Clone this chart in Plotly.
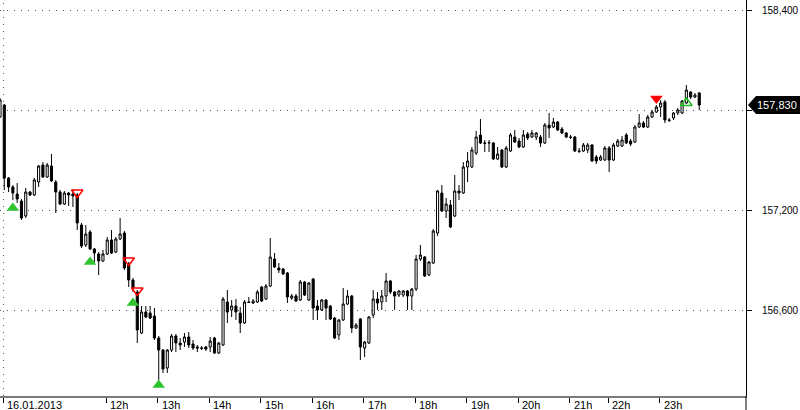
import plotly.graph_objects as go

# ---- data (5-minute candles, bar index 0..163) ----
opens = [157758,157830,157392,157338,157296,157254,157164,157308,157290,157368,
         157470,157398,157464,157368,157308,157236,157302,157296,157290,157110,
         156990,157068,156966,156936,156894,156936,157020,156948,157026,157062,
         156876,156780,156708,156462,156588,156582,156564,156432,156360,156252,
         156360,156444,156402,156408,156438,156396,156378,156372,156378,156378,
         156432,156342,156390,156648,156600,156624,156582,156522,156648,156642,
         156648,156738,156666,156744,156906,156852,156846,156822,156672,156684,
         156660,156768,156660,156786,156624,156600,156660,156624,156552,156450,
         156540,156636,156684,156492,156546,156372,156402,156570,156666,156648,
         156684,156774,156708,156690,156690,156714,156684,156726,156906,156918,
         156810,156882,157062,157302,157194,157230,157164,157314,157302,157458,
         157458,157542,157650,157602,157602,157602,157506,157560,157458,157554,
         157638,157614,157578,157656,157638,157638,157638,157602,157710,157698,
         157728,157686,157662,157638,157638,157554,157554,157560,157590,157518,
         157500,157500,157572,157500,157584,157584,157650,157614,157608,157698,
         157722,157698,157758,157788,157818,157848,157740,157752,157782,157782,
         157842,157908,157878,157902]
highs = [157872,157836,157398,157350,157362,157266,157332,157314,157392,157470,
         157488,157482,157536,157380,157320,157314,157308,157326,157302,157122,
         157110,157080,156972,156948,156960,157038,157080,157038,157152,157074,
         156888,156792,156720,156624,156624,156624,156612,156444,156366,156366,
         156456,156456,156432,156462,156468,156420,156390,156384,156384,156438,
         156438,156408,156678,156720,156660,156666,156618,156660,156678,156666,
         156720,156744,156756,157032,156942,156882,156852,156828,156696,156696,
         156780,156774,156768,156792,156660,156666,156666,156630,156558,156546,
         156732,156720,156690,156522,156552,156414,156564,156720,156708,156720,
         156822,156780,156714,156720,156720,156720,156732,156930,156990,156924,
         156894,157086,157320,157350,157272,157260,157410,157350,157488,157548,
         157578,157674,157746,157620,157620,157608,157578,157566,157584,157662,
         157680,157632,157680,157668,157680,157668,157650,157722,157782,157752,
         157734,157698,157668,157650,157644,157572,157602,157602,157596,157530,
         157530,157584,157584,157602,157626,157644,157662,157626,157710,157776,
         157734,157770,157800,157830,157860,157860,157752,157788,157812,157860,
         157950,157914,157902,157908]
lows = [157752,157320,157308,157260,157242,157140,157152,157284,157284,157338,
        157392,157392,157368,157182,157230,157230,157224,157218,157080,156972,
        156978,156960,156888,156810,156888,156930,156936,156942,157020,156840,
        156738,156708,156402,156456,156552,156546,156420,156180,156222,156222,
        156348,156348,156360,156378,156372,156360,156348,156360,156354,156348,
        156336,156336,156384,156522,156558,156540,156462,156516,156642,156636,
        156642,156648,156660,156738,156852,156822,156810,156642,156660,156648,
        156654,156684,156654,156540,156540,156594,156540,156540,156426,156420,
        156534,156630,156462,156486,156300,156318,156396,156552,156600,156600,
        156648,156696,156600,156678,156678,156600,156600,156714,156894,156798,
        156804,156876,157044,157188,157152,157092,157158,157260,157296,157368,
        157452,157530,157596,157548,157548,157500,157500,157452,157452,157548,
        157602,157572,157572,157620,157632,157620,157578,157596,157632,157692,
        157674,157656,157632,157626,157548,157542,157548,157542,157488,157476,
        157494,157494,157428,157494,157578,157578,157596,157584,157602,157692,
        157692,157692,157752,157782,157758,157722,157728,157740,157770,157776,
        157836,157866,157872,157800]
closes = [157860,157392,157338,157302,157266,157152,157308,157290,157380,157464,
          157398,157470,157374,157308,157236,157302,157290,157284,157122,156984,
          157056,156966,156942,156894,156936,157020,156942,157026,157056,156852,
          156780,156732,156480,156588,156558,156552,156432,156360,156246,156360,
          156444,156402,156390,156438,156390,156372,156372,156370,156366,156414,
          156342,156402,156666,156588,156624,156588,156522,156648,156645,156654,
          156708,156654,156744,156918,156858,156840,156816,156678,156684,156654,
          156768,156690,156762,156612,156600,156660,156612,156546,156432,156540,
          156636,156684,156492,156510,156378,156408,156558,156666,156642,156684,
          156774,156708,156684,156714,156714,156684,156726,156906,156930,156804,
          156888,157074,157314,157194,157236,157098,157314,157302,157458,157494,
          157560,157638,157602,157600,157604,157506,157536,157458,157572,157650,
          157608,157578,157650,157632,157662,157662,157602,157710,157692,157728,
          157680,157662,157638,157636,157554,157552,157590,157590,157494,157494,
          157518,157572,157500,157590,157614,157620,157602,157596,157698,157722,
          157698,157758,157788,157818,157842,157740,157738,157782,157800,157854,
          157920,157878,157890,157830]

# hour tick labels (bar index where each label sits)
tick_index = [1, 25, 37, 49, 61, 73, 85, 97, 109, 121, 133, 142, 154]
tick_labels = ["16.01.2013", "12h", "13h", "14h", "15h", "16h", "17h",
               "18h", "19h", "20h", "21h", "22h", "23h"]

# signal markers
buy_index = [3, 21, 31, 37]
buy_price = [157212, 156888, 156642, 156150]
sell_open_index = [18, 30, 32]
sell_open_price = [157305, 156897, 156717]
sell_index = [153]
sell_price = [157869]
buy_open_index = [160]
buy_open_price = [157842]

y_ticks = [156600, 157200, 157800, 158400]

# ---- figure ----
x = list(range(len(opens)))
fig = go.Figure()
fig.add_trace(go.Candlestick(
    x=x, open=opens, high=highs, low=lows, close=closes,
    increasing=dict(line=dict(color="black", width=1), fillcolor="white"),
    decreasing=dict(line=dict(color="black", width=1), fillcolor="black"),
    whiskerwidth=0, hoverinfo="skip", showlegend=False))

fig.add_trace(go.Scatter(x=buy_index, y=buy_price, mode="markers",
    marker=dict(symbol="triangle-up", size=11, color="#2fc42f", line=dict(width=0)),
    showlegend=False, hoverinfo="skip"))
fig.add_trace(go.Scatter(x=sell_open_index, y=sell_open_price, mode="markers",
    marker=dict(symbol="triangle-down-open", size=10, color="#ff0000", line=dict(width=1.5, color="#ff0000")),
    showlegend=False, hoverinfo="skip"))
fig.add_trace(go.Scatter(x=sell_index, y=sell_price, mode="markers",
    marker=dict(symbol="triangle-down", size=11, color="#ff0000", line=dict(width=0)),
    showlegend=False, hoverinfo="skip"))
fig.add_trace(go.Scatter(x=buy_open_index, y=buy_open_price, mode="markers",
    marker=dict(symbol="triangle-up-open", size=10, color="#22bb22", line=dict(width=1.5, color="#22bb22")),
    showlegend=False, hoverinfo="skip"))

PLOT_W = 746
fig.update_layout(
    width=800, height=410,
    margin=dict(l=0, r=800 - PLOT_W, t=0, b=14),
    paper_bgcolor="white", plot_bgcolor="white",
    font=dict(family="Liberation Sans, Arial, sans-serif", size=10, color="black"),
    xaxis=dict(
        range=[0, 173.9], rangeslider=dict(visible=False),
        showgrid=False, zeroline=False, automargin=False,
        showline=True, linecolor="#7a7a7a", linewidth=2,
        tickmode="array", tickvals=[t - 0.2 for t in tick_index], ticktext=[""] * len(tick_index),
        ticks="outside", ticklen=5, tickcolor="black", tickwidth=1,
        showticklabels=False,
    ),
    yaxis=dict(
        side="right", range=[156084, 158460], automargin=False,
        tickmode="array", tickvals=y_ticks,
        ticktext=[f"{v:,}" if v != 157800 else "" for v in y_ticks],
        showgrid=True, gridcolor="#555555", gridwidth=1, griddash="1px,6px",
        zeroline=False,
        showline=True, linecolor="black", linewidth=1,
        ticks="outside", ticklen=5, tickcolor="black",
        ticklabelstandoff=8,
        tickfont=dict(size=10),
    ),
)

# x labels, left-aligned next to their tick marks
for ti, tl in zip(tick_index, tick_labels):
    fig.add_annotation(x=ti - 0.2, y=0, xref="x", yref="paper", text=tl,
                       showarrow=False, xanchor="left", yanchor="top",
                       xshift=2, yshift=-1, font=dict(size=11))

# day separator (dotted vertical line at the first label)
fig.add_shape(type="line", xref="x", yref="paper", x0=tick_index[0] - 0.2, x1=tick_index[0] - 0.2,
              y0=0, y1=1, line=dict(color="#555555", width=1, dash="1px,6px"), layer="below")

# right axis line extended to bottom edge
fig.add_shape(type="line", xref="paper", yref="paper", x0=1, x1=1, y0=-0.05, y1=0,
              line=dict(color="black", width=1))

# current price tag
last = closes[-1]
tip = 748 / PLOT_W
bl = 756 / PLOT_W
br = 800 / PLOT_W
half = 9 * 6
fig.add_shape(type="path", xref="paper", yref="y",
              path=f"M {tip},{last} L {bl},{last + half} L {br},{last + half} L {br},{last - half} L {bl},{last - half} Z",
              fillcolor="black", line=dict(color="black", width=0), layer="above")
fig.add_annotation(x=(756 + 798) / 2 / PLOT_W, y=last, xref="paper", yref="y",
                   text=f"{last:,}", showarrow=False, xanchor="center", yanchor="middle",
                   font=dict(color="white", size=11))

fig.write_html("out.html", config={"displayModeBar": False},
               post_script="document.body.style.margin='0';document.body.style.overflow='hidden';")
